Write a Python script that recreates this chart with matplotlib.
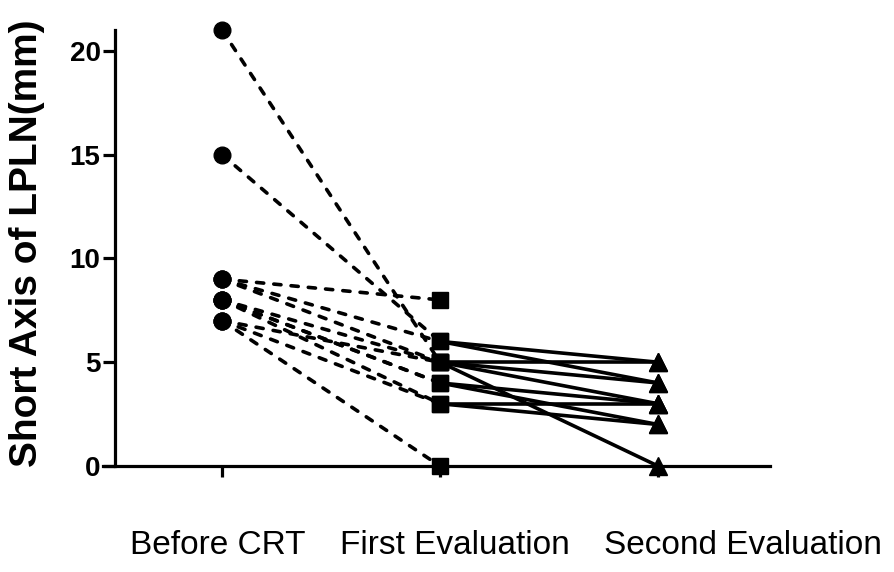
import numpy as np
import matplotlib
matplotlib.use("Agg")
import matplotlib.pyplot as plt
import matplotlib.transforms as mtransforms

plt.rcParams['font.family'] = ['Liberation Sans', 'DejaVu Sans']

categories = ["Before CRT", "First Evaluation", "Second Evaluation"]
before = [21, 15, 9, 9, 9, 8, 8, 8, 8, 7, 7, 7]
first = [5, 6, 8, 6, 5, 5, 4, 4, 3, 5, 3, 0]
second = [0, 5, np.nan, 4, 5, 3, 3, 2, 3, 4, 2, np.nan]
yticks = [0, 5, 10, 15, 20]

fig = plt.figure(figsize=(8.95, 5.72), dpi=100)
ax = fig.add_axes([103/895, 106/572, 667/895, 436/572])

lw = 2.6
xs = [0, 1, 2]
for b, f, s in zip(before, first, second):
    ax.plot([xs[0], xs[1]], [b, f], color='black', lw=lw,
            linestyle=(0, (2.0, 2.8)), dash_capstyle='round', clip_on=False, zorder=2)
    if not np.isnan(s):
        ax.plot([xs[1], xs[2]], [f, s], color='black', lw=lw,
                solid_capstyle='butt', clip_on=False, zorder=2)

ax.plot([xs[0]]*len(before), before, 'o', color='black', ms=12, clip_on=False, zorder=3)
ax.plot([xs[1]]*len(first), first, 's', color='black', ms=12, clip_on=False, zorder=3)
sec = [v for v in second if not np.isnan(v)]
ax.plot([xs[2]]*len(sec), sec, '^', color='black', ms=13, clip_on=False, zorder=3)

ax.set_xlim(-0.546, 2.514)
ax.set_ylim(0, 21)
ax.spines['left'].set_position(('data', -0.49))
ax.spines['top'].set_visible(False)
ax.spines['right'].set_visible(False)
for sp in ['left', 'bottom']:
    ax.spines[sp].set_linewidth(2.3)

ax.set_yticks(yticks)
ax.set_yticklabels([str(v) for v in yticks], fontsize=20, fontweight='bold')
ax.tick_params(axis='y', length=8.5, width=2.3, pad=2)
ax.set_xticks(xs)
ax.set_xticklabels([])
ax.tick_params(axis='x', length=8, width=2.3, direction='out')

trans = mtransforms.blended_transform_factory(ax.transData, fig.transFigure)
label_dx = [-0.02, 0.07, 0.39]
for i, (c, dx) in enumerate(zip(categories, label_dx)):
    ax.text(xs[i] + dx, 1 - 545/572, c, transform=trans, ha='center', va='center',
            fontsize=24)

fig.text(27/895, 1 - 243/572, "Short Axis of LPLN(mm)", rotation=90, ha='center',
         va='center', fontsize=28, fontweight='bold')

fig.savefig("out.png", dpi=100)
